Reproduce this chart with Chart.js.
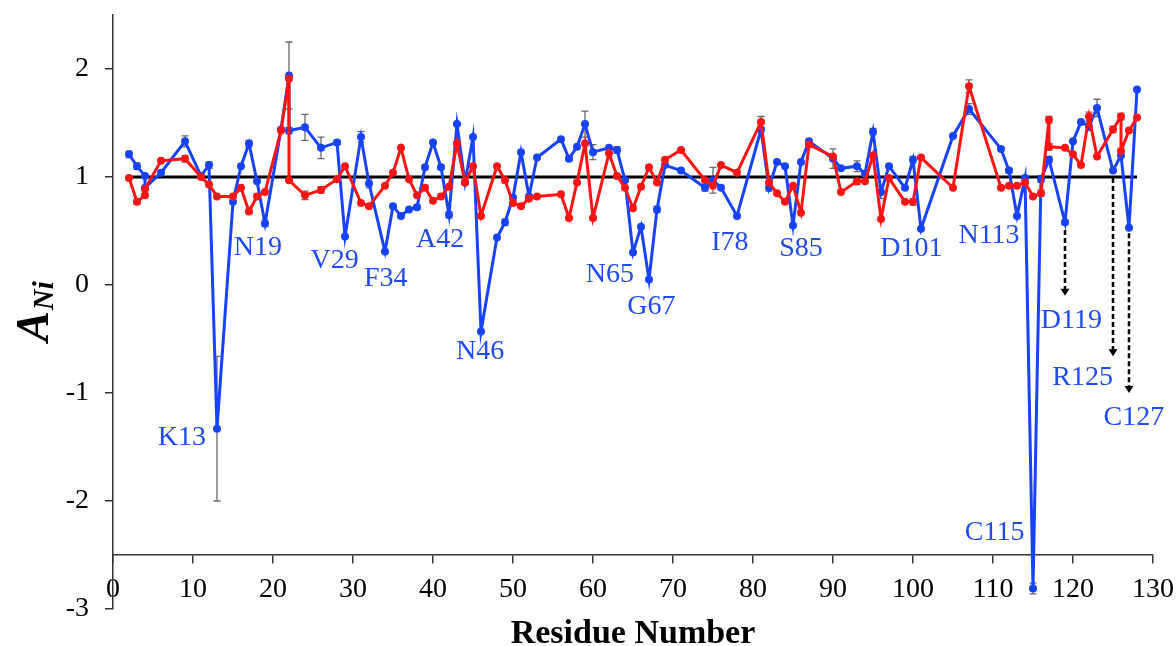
<!DOCTYPE html>
<html>
<head>
<meta charset="utf-8">
<script src="https://cdn.jsdelivr.net/npm/chart.js@4.4.1/dist/chart.umd.min.js"></script>
<style>
  html, body { margin: 0; padding: 0; background: #ffffff; }
  #wrap { width: 1176px; height: 646px; position: relative; }
</style>
</head>
<body>
<div id="wrap"><canvas id="chart" width="1176" height="646"></canvas></div>
<script>
// Axis ticks
const xTickValues = [0, 10, 20, 30, 40, 50, 60, 70, 80, 90, 100, 110, 120, 130];
const yTickValues = [-3, -2, -1, 0, 1, 2];

// Blue series: residue, A_Ni, error
const blueResidues = [2, 3, 4, 4, 6, 9, 11, 12, 13, 15, 16, 17, 18, 19, 21, 22, 22, 24, 26, 28,
  29, 31, 32, 34, 35, 36, 37, 38, 39, 40, 41, 42, 43, 44, 45, 46, 48, 49, 50, 51,
  52, 53, 56, 57, 58, 59, 60, 62, 63, 64, 65, 66, 67, 68, 69, 71, 74, 75, 76, 78,
  81, 82, 83, 84, 85, 86, 87, 90, 91, 93, 94, 95, 96, 97, 99, 100, 101, 105, 107, 111,
  112, 113, 114, 115, 116, 117, 119, 120, 121, 122, 123, 125, 126, 127, 128];
const blueValues = [1.21, 1.10, 1.01, 0.90, 1.04, 1.33, 1.01, 1.11, -1.33, 0.77, 1.10, 1.31, 0.96, 0.57, 1.44, 1.94, 1.43, 1.46, 1.27, 1.32,
  0.45, 1.37, 0.94, 0.31, 0.73, 0.64, 0.70, 0.72, 1.09, 1.32, 1.09, 0.65, 1.49, 0.95, 1.37, -0.43, 0.44, 0.58, 0.81, 1.23,
  0.82, 1.18, 1.35, 1.17, 1.28, 1.49, 1.23, 1.27, 1.25, 0.97, 0.30, 0.54, 0.05, 0.70, 1.11, 1.06, 0.90, 0.97, 0.90, 0.64,
  1.44, 0.90, 1.14, 1.10, 0.55, 1.14, 1.33, 1.17, 1.08, 1.10, 1.03, 1.42, 0.86, 1.10, 0.90, 1.16, 0.52, 1.38, 1.63, 1.26,
  1.06, 0.64, 0.99, -2.81, 0.98, 1.16, 0.58, 1.33, 1.51, 1.47, 1.64, 1.06, 1.20, 0.53, 1.81];
const blueErrors = [0.03, 0.03, 0, 0, 0, 0.05, 0, 0.03, 0.67, 0, 0, 0.03, 0, 0.03, 0, 0.31, 0.03, 0.12, 0.10, 0.02,
  0, 0.05, 0.04, 0, 0, 0, 0, 0.02, 0, 0, 0.02, 0.03, 0, 0.02, 0, 0, 0, 0.03, 0, 0,
  0, 0, 0, 0.02, 0, 0.12, 0.07, 0, 0.03, 0, 0, 0, 0, 0.03, 0, 0, 0.03, 0.12, 0, 0,
  0, 0.03, 0, 0, 0, 0, 0, 0.09, 0, 0.05, 0, 0.03, 0.06, 0, 0, 0.03, 0, 0, 0.05, 0,
  0.02, 0, 0, 0.05, 0.03, 0.03, 0.02, 0, 0, 0.04, 0.08, 0, 0, 0, 0];

// Red series: residue, A_Ni, error
const redResidues = [2, 3, 4, 4, 6, 9, 11, 12, 13, 15, 16, 17, 18, 19, 21, 22, 22, 24, 26, 28,
  29, 31, 32, 34, 35, 36, 37, 38, 39, 40, 41, 42, 43, 44, 45, 46, 48, 49, 50, 51,
  52, 53, 56, 57, 58, 59, 60, 62, 63, 64, 65, 66, 67, 68, 69, 71, 74, 75, 76, 78,
  81, 82, 83, 84, 85, 86, 87, 90, 91, 93, 94, 95, 96, 97, 99, 100, 101, 105, 107, 111,
  112, 113, 114, 115, 116, 117, 117, 119, 120, 121, 122, 123, 125, 126, 126, 127, 128];
const redValues = [0.99, 0.77, 0.83, 0.89, 1.15, 1.17, 1.00, 0.93, 0.82, 0.82, 0.90, 0.68, 0.82, 0.86, 1.43, 1.91, 0.97, 0.83, 0.88, 0.98,
  1.10, 0.76, 0.73, 0.92, 1.04, 1.27, 0.98, 0.83, 0.90, 0.78, 0.82, 0.91, 1.31, 0.95, 1.10, 0.64, 1.10, 0.97, 0.76, 0.73,
  0.80, 0.82, 0.84, 0.62, 0.95, 1.31, 0.62, 1.22, 1.01, 0.90, 0.71, 0.91, 1.09, 0.95, 1.16, 1.25, 0.97, 0.92, 1.11, 1.04,
  1.51, 0.95, 0.85, 0.77, 0.92, 0.67, 1.30, 1.19, 0.86, 0.96, 0.96, 1.20, 0.61, 0.99, 0.77, 0.77, 1.18, 0.90, 1.84, 0.90,
  0.92, 0.92, 0.95, 0.82, 0.85, 1.53, 1.28, 1.27, 1.21, 1.11, 1.56, 1.19, 1.44, 1.56, 1.24, 1.43, 1.55];
const redErrors = [0, 0.02, 0, 0, 0, 0.03, 0, 0, 0, 0, 0, 0.02, 0, 0, 0, 0, 0, 0.04, 0.03, 0,
  0, 0, 0, 0, 0, 0, 0, 0, 0, 0, 0, 0, 0, 0, 0, 0, 0, 0, 0, 0,
  0, 0, 0, 0, 0, 0, 0, 0, 0, 0, 0, 0, 0, 0, 0, 0, 0, 0, 0, 0,
  0.05, 0, 0, 0, 0, 0, 0, 0, 0, 0.03, 0, 0, 0, 0, 0, 0.03, 0, 0, 0.06, 0,
  0, 0, 0, 0, 0.03, 0.03, 0.03, 0, 0, 0, 0.04, 0, 0.03, 0.03, 0, 0, 0];

// Reference level A_Ni = 1 across the sequence
const referenceResidues = [2, 128];
const referenceValues = [1, 1];

// Residue labels
const labelTexts = ['K13', 'N19', 'V29', 'F34', 'A42', 'N46', 'N65', 'G67', 'I78', 'S85', 'D101', 'N113', 'C115', 'D119', 'R125', 'C127'];
const labelX = [8.6, 18.1, 27.7, 34.1, 40.9, 45.9, 62.1, 67.3, 77.1, 86.0, 99.8, 109.5, 110.2, 119.8, 121.2, 127.6];
const labelY = [-1.41, 0.35, 0.23, 0.06, 0.42, -0.62, 0.10, -0.20, 0.39, 0.34, 0.34, 0.46, -2.29, -0.33, -0.86, -1.23];

// Dashed arrows pointing from residues to their labels
const arrowResidues = [119, 125, 127];
const arrowFrom = [0.51, 0.99, 0.48];
const arrowTo = [-0.10, -0.66, -1.00];

const BLUE = '#1742ff';
const RED = '#ff1414';
const LABEL_BLUE = '#1f4bf0';
const SERIF = '"Liberation Serif", "Times New Roman", serif';

function toPoints(xs, ys) { return xs.map((x, i) => ({ x: x, y: ys[i] })); }

const decorations = {
  id: 'decorations',
  beforeDatasetsDraw(chart) {
    const ctx = chart.ctx, xs = chart.scales.x, ys = chart.scales.y;
    ctx.save();
    ctx.strokeStyle = '#6a6a6a';
    ctx.lineWidth = 1.3;
    const drawBars = (res, vals, errs) => {
      res.forEach((r, i) => {
        const e = errs[i];
        if (!e) return;
        const px = xs.getPixelForValue(r);
        const top = ys.getPixelForValue(vals[i] + e);
        const bot = ys.getPixelForValue(vals[i] - e);
        ctx.beginPath();
        ctx.moveTo(px, top); ctx.lineTo(px, bot);
        ctx.moveTo(px - 3.5, top); ctx.lineTo(px + 3.5, top);
        ctx.moveTo(px - 3.5, bot); ctx.lineTo(px + 3.5, bot);
        ctx.stroke();
      });
    };
    drawBars(blueResidues, blueValues, blueErrors);
    drawBars(redResidues, redValues, redErrors);
    ctx.restore();
  },
  afterDatasetsDraw(chart) {
    const ctx = chart.ctx, xs = chart.scales.x, ys = chart.scales.y;
    ctx.save();
    // arrows
    ctx.strokeStyle = '#000';
    ctx.fillStyle = '#000';
    ctx.lineWidth = 2.5;
    arrowResidues.forEach((r, i) => {
      const px = xs.getPixelForValue(r);
      const y1 = ys.getPixelForValue(arrowFrom[i]);
      const y2 = ys.getPixelForValue(arrowTo[i]);
      ctx.setLineDash([5, 3]);
      ctx.beginPath();
      ctx.moveTo(px, y1); ctx.lineTo(px, y2 - 6);
      ctx.stroke();
      ctx.setLineDash([]);
      ctx.beginPath();
      ctx.moveTo(px - 4.5, y2 - 7);
      ctx.lineTo(px + 4.5, y2 - 7);
      ctx.lineTo(px, y2);
      ctx.closePath();
      ctx.fill();
    });
    // residue labels
    ctx.font = '28px ' + SERIF;
    ctx.fillStyle = LABEL_BLUE;
    ctx.textAlign = 'center';
    ctx.textBaseline = 'middle';
    labelTexts.forEach((t, i) => {
      ctx.fillText(t, xs.getPixelForValue(labelX[i]), ys.getPixelForValue(labelY[i]));
    });
    ctx.restore();
  },
  afterDraw(chart) {
    const ctx = chart.ctx, area = chart.chartArea;
    ctx.save();
    ctx.fillStyle = '#000';
    // x title
    ctx.font = 'bold 34px ' + SERIF;
    ctx.textAlign = 'center';
    ctx.textBaseline = 'alphabetic';
    ctx.fillText('Residue Number', (area.left + area.right) / 2, 643);
    // y title: A with subscript Ni
    const cy = (area.top + area.bottom) / 2;
    ctx.translate(48, cy);
    ctx.rotate(-Math.PI / 2);
    ctx.textAlign = 'left';
    const fA = 'italic bold 46px ' + SERIF;
    const fN = 'italic bold 29px ' + SERIF;
    ctx.font = fA; const wA = ctx.measureText('A').width;
    ctx.font = fN; const wN = ctx.measureText('Ni').width;
    const x0 = -(wA + wN) / 2;
    ctx.font = fA; ctx.fillText('A', x0, 0);
    ctx.font = fN; ctx.fillText('Ni', x0 + wA + 1, 5);
    ctx.restore();
  }
};

new Chart(document.getElementById('chart'), {
  type: 'line',
  data: {
    datasets: [
      {
        data: toPoints(redResidues, redValues),
        borderColor: RED, backgroundColor: RED,
        borderWidth: 3, pointRadius: 4, pointBorderWidth: 0,
        tension: 0
      },
      {
        data: toPoints(blueResidues, blueValues),
        borderColor: BLUE, backgroundColor: BLUE,
        borderWidth: 3, pointRadius: 4, pointBorderWidth: 0,
        tension: 0
      },
      {
        data: toPoints(referenceResidues, referenceValues),
        borderColor: '#000', backgroundColor: '#000',
        borderWidth: 3, pointRadius: 0,
        tension: 0
      }
    ]
  },
  options: {
    responsive: false,
    animation: false,
    devicePixelRatio: 1,
    layout: { padding: { left: 0, right: 23, top: 15, bottom: 37 } },
    plugins: { legend: { display: false }, tooltip: { enabled: false } },
    scales: {
      x: {
        type: 'linear',
        min: 0, max: 130,
        position: { y: -2.5 },
        afterBuildTicks: s => { s.ticks = xTickValues.map(v => ({ value: v })); },
        afterFit: s => { s.paddingLeft = 0; s.paddingRight = 0; s.paddingTop = 0; s.paddingBottom = 0; },
        ticks: { font: { family: SERIF, size: 28 }, color: '#000', padding: 10, maxRotation: 0, autoSkip: false },
        grid: { display: true, drawOnChartArea: false, drawTicks: true, tickLength: 8, color: '#333', lineWidth: 1.5 },
        border: { display: true, color: '#333', width: 1.5 }
      },
      y: {
        type: 'linear',
        min: -3, max: 2.5,
        position: 'left',
        afterBuildTicks: s => { s.ticks = yTickValues.map(v => ({ value: v })); },
        afterFit: s => { s.width = 113; s.paddingTop = 0; s.paddingBottom = 0; s.paddingLeft = 0; s.paddingRight = 0; },
        ticks: { font: { family: SERIF, size: 28 }, color: '#000', padding: 16 },
        grid: { display: true, drawOnChartArea: false, drawTicks: true, tickLength: 8, color: '#333', lineWidth: 1.5 },
        border: { display: true, color: '#333', width: 1.5 }
      }
    }
  },
  plugins: [decorations]
});
</script>
</body>
</html>
